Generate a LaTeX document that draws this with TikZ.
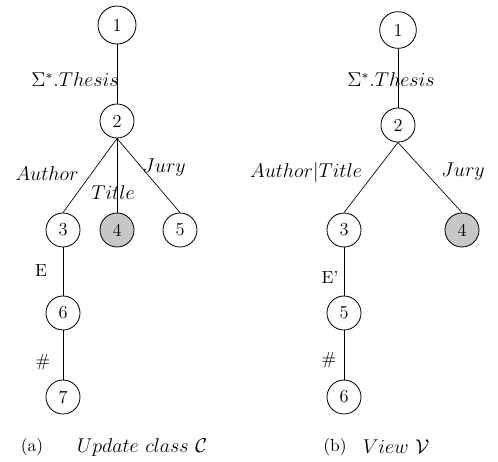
\documentclass[tikz,border=0pt]{standalone}
\usepackage{amsmath, amsfonts, amssymb}
\usepackage{xcolor}
\usepackage{tikz}

\tikzset{
  vertex/.style={draw, circle, minimum size=20.4pt, inner sep=0pt, line width=0.5pt, font=\fontsize{11}{13}\selectfont},
  marked/.style={vertex, fill=black!22},
  edgelabel/.style={inner sep=0pt, font=\fontsize{12}{14}\selectfont},
  plainlabel/.style={inner sep=0pt, font=\fontsize{10.5}{12}\selectfont}
}

\begin{document}
\begin{tikzpicture}[x=0.6pt,y=-0.6pt]
\useasboundingbox (0,0) rectangle (498,462);

\node[vertex, minimum size=22.8pt] (a1) at (117,25) {1};
\node[vertex] (a2) at (117,121) {2};
\node[vertex] (a3) at (63,230) {3};
\node[marked] (a4) at (117,230) {4};
\node[vertex] (a5) at (180,230) {5};
\node[vertex] (a6) at (63,313) {6};
\node[vertex] (a7) at (63,397) {7};

\draw (a1.south)--(a2.north);
\draw (a2.south)--(a3.north);
\draw (a2.south)--(a4.north);
\draw (a2.south)--(a5.north);
\draw (a3.south)--(a6.north);
\draw (a6.south)--(a7.north);

\node[edgelabel] (athesis) at (75,80) {$\Sigma^*.Thesis$};
\node[edgelabel] (aauthor) at (47,174) {$Author$};
\node[edgelabel] (atitle) at (113,193) {$Title$};
\node[edgelabel] (ajury) at (164,168) {$Jury$};
\node[plainlabel] (ae) at (41,271) {E};
\node[plainlabel] (ahash) at (43,362) {\#};

\node[vertex, minimum size=22pt] (b1) at (398,30) {1};
\node[vertex] (b2) at (398,125) {2};
\node[vertex] (b3) at (344,230) {3};
\node[marked] (b4) at (462,230) {4};
\node[vertex] (b5) at (344,313) {5};
\node[vertex] (b6) at (344,397) {6};

\draw (b1.south)--(b2.north);
\draw (b2.south)--(b3.north);
\draw (b2.south)--(b4.north);
\draw (b3.south)--(b5.north);
\draw (b5.south)--(b6.north);

\node[edgelabel] (bthesis) at (391,80) {$\Sigma^*.Thesis$};
\node[edgelabel] (bauthor) at (306,172) {$Author|Title$};
\node[edgelabel] (bjury) at (463,172) {$Jury$};
\node[plainlabel] (be) at (330,277) {E'};
\node[plainlabel] (bhash) at (329,360) {\#};

\node[plainlabel] (acap) at (32,447) {(a)};
\node[edgelabel] (aname) at (142,447) {$Update\ class\ \mathcal{C}$};
\node[plainlabel] (bcap) at (335,447) {(b)};
\node[edgelabel] (bname) at (396,447) {$View\ \mathcal{V}$};
\end{tikzpicture}
\end{document}
